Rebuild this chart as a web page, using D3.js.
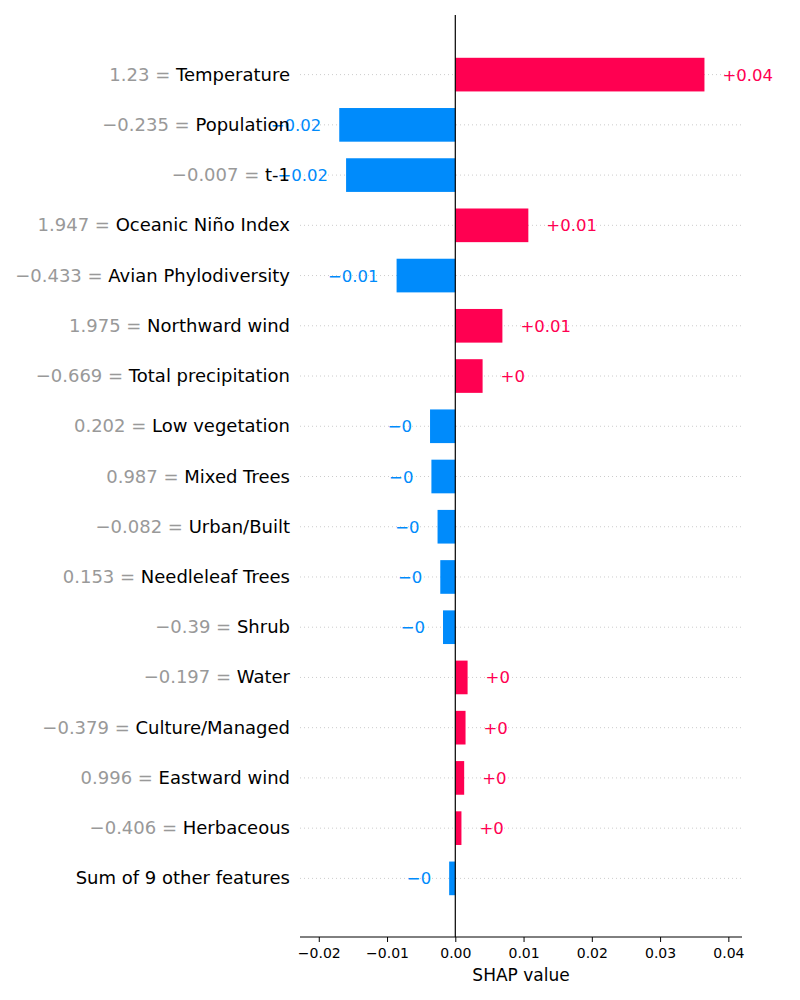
<!DOCTYPE html>
<html><head><meta charset="utf-8">
<script src="https://cdn.jsdelivr.net/npm/d3@7"></script>
<style>body{margin:0;background:#fff}</style>
</head><body>
<script>
var featureValues = ["1.23", "\u22120.235", "\u22120.007", "1.947", "\u22120.433", "1.975", "\u22120.669", "0.202", "0.987", "\u22120.082", "0.153", "\u22120.39", "\u22120.197", "\u22120.379", "0.996", "\u22120.406", ""];
var featureNames = ["Temperature", "Population", "t-1", "Oceanic Ni\u00f1o Index", "Avian Phylodiversity", "Northward wind", "Total precipitation", "Low vegetation", "Mixed Trees", "Urban/Built", "Needleleaf Trees", "Shrub", "Water", "Culture/Managed", "Eastward wind", "Herbaceous", "Sum of 9 other features"];
var shapValues = [0.0365, -0.0170, -0.0160, 0.0107, -0.0086, 0.0069, 0.0040, -0.0037, -0.0035, -0.0026, -0.0022, -0.0018, 0.0018, 0.0015, 0.0013, 0.0009, -0.0009];
var valueLabels = ["+0.04", "\u22120.02", "\u22120.02", "+0.01", "\u22120.01", "+0.01", "+0", "\u22120", "\u22120", "\u22120", "\u22120", "\u22120", "+0", "+0", "+0", "+0", "\u22120"];
var tickValues = [-0.02, -0.01, 0, 0.01, 0.02, 0.03, 0.04];

var red = "#ff0051", blue = "#008bfb", font = "DejaVu Sans";
var svg = d3.select("body").append("svg").attr("width", 800).attr("height", 1000)
  .style("font-family", font);

var x = d3.scaleLinear().domain([-0.02275, 0.0420]).range([300, 742]);
var y = d3.scaleBand().domain(d3.range(featureNames.length)).range([49.5, 903.5]).paddingInner(0.33).paddingOuter(0.165);

var rows = svg.selectAll("g.row").data(featureNames).enter().append("g");

rows.append("line")
  .attr("x1", 300).attr("x2", 742)
  .attr("y1", function(d, i) { return y(i) + y.bandwidth() / 2; })
  .attr("y2", function(d, i) { return y(i) + y.bandwidth() / 2; })
  .attr("stroke", "#ccc").attr("stroke-dasharray", "1,3");

rows.append("rect")
  .attr("x", function(d, i) { return Math.min(x(0), x(shapValues[i])); })
  .attr("width", function(d, i) { return Math.abs(x(shapValues[i]) - x(0)); })
  .attr("y", function(d, i) { return y(i); })
  .attr("height", y.bandwidth())
  .attr("fill", function(d, i) { return shapValues[i] > 0 ? red : blue; });

rows.append("text")
  .attr("x", function(d, i) { return x(shapValues[i]) + (shapValues[i] > 0 ? 18 : -18); })
  .attr("y", function(d, i) { return y(i) + y.bandwidth() / 2 + 6; })
  .attr("text-anchor", function(d, i) { return shapValues[i] > 0 ? "start" : "end"; })
  .attr("font-size", 16.5)
  .attr("fill", function(d, i) { return shapValues[i] > 0 ? red : blue; })
  .text(function(d, i) { return valueLabels[i]; });

var lab = rows.append("text")
  .attr("x", 290)
  .attr("y", function(d, i) { return y(i) + y.bandwidth() / 2 + 6; })
  .attr("text-anchor", "end").attr("font-size", 18);
lab.append("tspan").attr("fill", "#999")
  .text(function(d, i) { return featureValues[i] ? featureValues[i] + " = " : ""; });
lab.append("tspan").attr("fill", "#000").text(function(d) { return d; });

svg.append("line").attr("x1", x(0)).attr("x2", x(0)).attr("y1", 15).attr("y2", 937)
  .attr("stroke", "#000").attr("stroke-width", 1.2);

var axis = svg.append("g").attr("transform", "translate(0,937)")
  .call(d3.axisBottom(x).tickValues(tickValues).tickSize(5)
    .tickFormat(function(d) { return d3.format(".2f")(d).replace("-", "\u2212"); }));
axis.select(".domain").attr("d", "M300,0H742").attr("stroke", "#000");
axis.selectAll("text").attr("font-size", 14).attr("font-family", font).attr("dy", "0.9em");
svg.append("text").attr("x", 521).attr("y", 981).attr("text-anchor", "middle")
  .attr("font-size", 17).text("SHAP value");
</script>
</body></html>
